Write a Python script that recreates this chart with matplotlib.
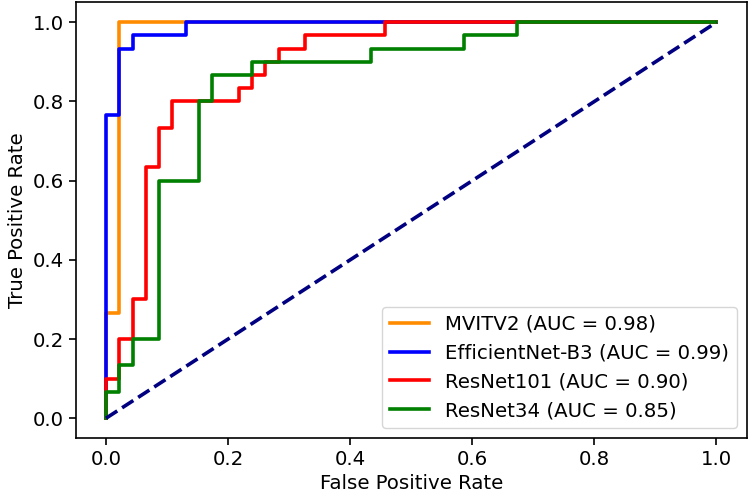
import matplotlib
matplotlib.use("Agg")
import matplotlib.pyplot as plt

# ROC curve vertices
mvit_fpr = [0.0, 0.0, 0.0217, 0.0217, 1.0]
mvit_tpr = [0.0, 0.2667, 0.2667, 1.0, 1.0]

eff_fpr = [0.0, 0.0, 0.0217, 0.0217, 0.0435, 0.0435, 0.1304, 0.1304, 1.0]
eff_tpr = [0.0, 0.7667, 0.7667, 0.9333, 0.9333, 0.9667, 0.9667, 1.0, 1.0]

r101_fpr = [0.0, 0.0, 0.0217, 0.0217, 0.0435, 0.0435, 0.0652, 0.0652, 0.0870, 0.0870,
            0.1087, 0.1087, 0.2174, 0.2174, 0.2391, 0.2391, 0.2609, 0.2609, 0.2826, 0.2826,
            0.3261, 0.3261, 0.4565, 0.4565, 1.0]
r101_tpr = [0.0, 0.1, 0.1, 0.2, 0.2, 0.3, 0.3, 0.6333, 0.6333, 0.7333,
            0.7333, 0.8, 0.8, 0.8333, 0.8333, 0.8667, 0.8667, 0.9, 0.9, 0.9333,
            0.9333, 0.9667, 0.9667, 1.0, 1.0]

r34_fpr = [0.0, 0.0, 0.0217, 0.0217, 0.0435, 0.0435, 0.0870, 0.0870, 0.1522, 0.1522,
           0.1739, 0.1739, 0.2391, 0.2391, 0.4348, 0.4348, 0.5870, 0.5870, 0.6739, 0.6739, 1.0]
r34_tpr = [0.0, 0.0667, 0.0667, 0.1333, 0.1333, 0.2, 0.2, 0.6, 0.6, 0.8,
           0.8, 0.8667, 0.8667, 0.9, 0.9, 0.9333, 0.9333, 0.9667, 0.9667, 1.0, 1.0]

labels = ["MVITV2 (AUC = 0.98)", "EfficientNet-B3 (AUC = 0.99)",
          "ResNet101 (AUC = 0.90)", "ResNet34 (AUC = 0.85)"]
colors = ["darkorange", "blue", "red", "green"]

ticks = [0.0, 0.2, 0.4, 0.6, 0.8, 1.0]

fs = 14.2
lw = 2.6
fig = plt.figure(figsize=(7.5, 4.98), dpi=100)
ax = fig.add_axes([0.1007, 0.1205, 0.8953, 0.8745])

curves = [(mvit_fpr, mvit_tpr), (eff_fpr, eff_tpr), (r101_fpr, r101_tpr), (r34_fpr, r34_tpr)]
for (f, t), lab, c in zip(curves, labels, colors):
    ax.plot(f, t, color=c, lw=lw, label=lab)
ax.plot([0, 1], [0, 1], color="navy", lw=lw, linestyle="--")

ax.set_xticks(ticks)
ax.set_yticks(ticks)
ax.set_xticklabels([f"{v:.1f}" for v in ticks])
ax.set_yticklabels([f"{v:.1f}" for v in ticks])
ax.tick_params(labelsize=fs, length=5, width=1.2)
for s in ax.spines.values():
    s.set_linewidth(1.2)
ax.set_xlabel("False Positive Rate", fontsize=fs)
ax.set_ylabel("True Positive Rate", fontsize=fs)
ax.legend(loc="lower right", fontsize=fs)

fig.savefig("out.png", dpi=100)
